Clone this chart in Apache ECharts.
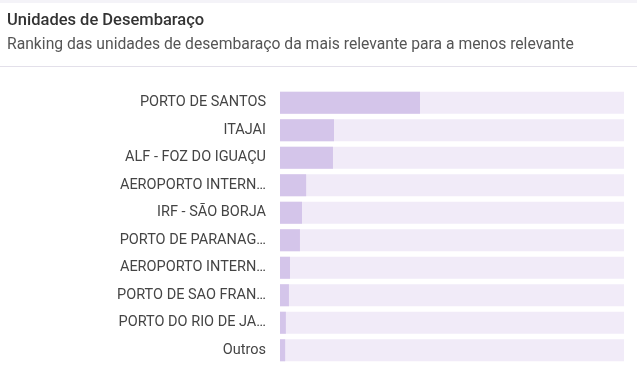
<!DOCTYPE html>
<html><head><meta charset="utf-8">
<script src="https://cdn.jsdelivr.net/npm/echarts@6/dist/echarts.min.js"></script>
<style>html,body{margin:0;padding:0;background:#fff;}#c{width:637px;height:367px;}</style>
</head><body><div id="c"></div>
<script>
var titleText = 'Unidades de Desembaraço';
var subtitleText = 'Ranking das unidades de desembaraço da mais relevante para a menos relevante';
var categories = ['PORTO DE SANTOS','ITAJAI','ALF - FOZ DO IGUAÇU','AEROPORTO INTERNACIONAL DE SAO PAULO','IRF - SÃO BORJA','PORTO DE PARANAGUA','AEROPORTO INTERNACIONAL DO RIO DE JANEIRO','PORTO DE SAO FRANCISCO DO SUL','PORTO DO RIO DE JANEIRO','Outros'];
var values = [40.7, 15.7, 15.4, 7.6, 6.4, 5.8, 2.9, 2.6, 1.7, 1.5];
var maxValue = 100;

var chart = echarts.init(document.getElementById('c'), null, {renderer:'canvas'});
chart.setOption({
  animation:false,
  graphic:[
    {type:'rect', shape:{x:0,y:0,width:637,height:3}, style:{fill:'#f4f3f8'}},
    {type:'rect', shape:{x:0,y:66,width:637,height:1}, style:{fill:'#e3e0ea'}},
    {type:'text', left:7, top:12, style:{text:titleText, font:'500 16.5px Roboto', fill:'#333'}},
    {type:'text', left:7, top:37, style:{text:subtitleText, font:'15.7px Roboto', fill:'#555'}}
  ],
  grid:{left:280, right:13, top:89, bottom:3, containLabel:false},
  xAxis:{type:'value', min:0, max:maxValue, show:false},
  yAxis:{type:'category', data:categories, inverse:true,
    axisLine:{show:false}, axisTick:{show:false}, splitLine:{show:false},
    axisLabel:{color:'#444', fontSize:14.5, fontFamily:'Roboto', margin:14, width:152, overflow:'truncate', ellipsis:'…'}},
  series:[{type:'bar', data:values, barWidth:22, showBackground:true,
    backgroundStyle:{color:'#f1ebf8'}, itemStyle:{color:'#d4c5ea'}}]
});
</script></body></html>
